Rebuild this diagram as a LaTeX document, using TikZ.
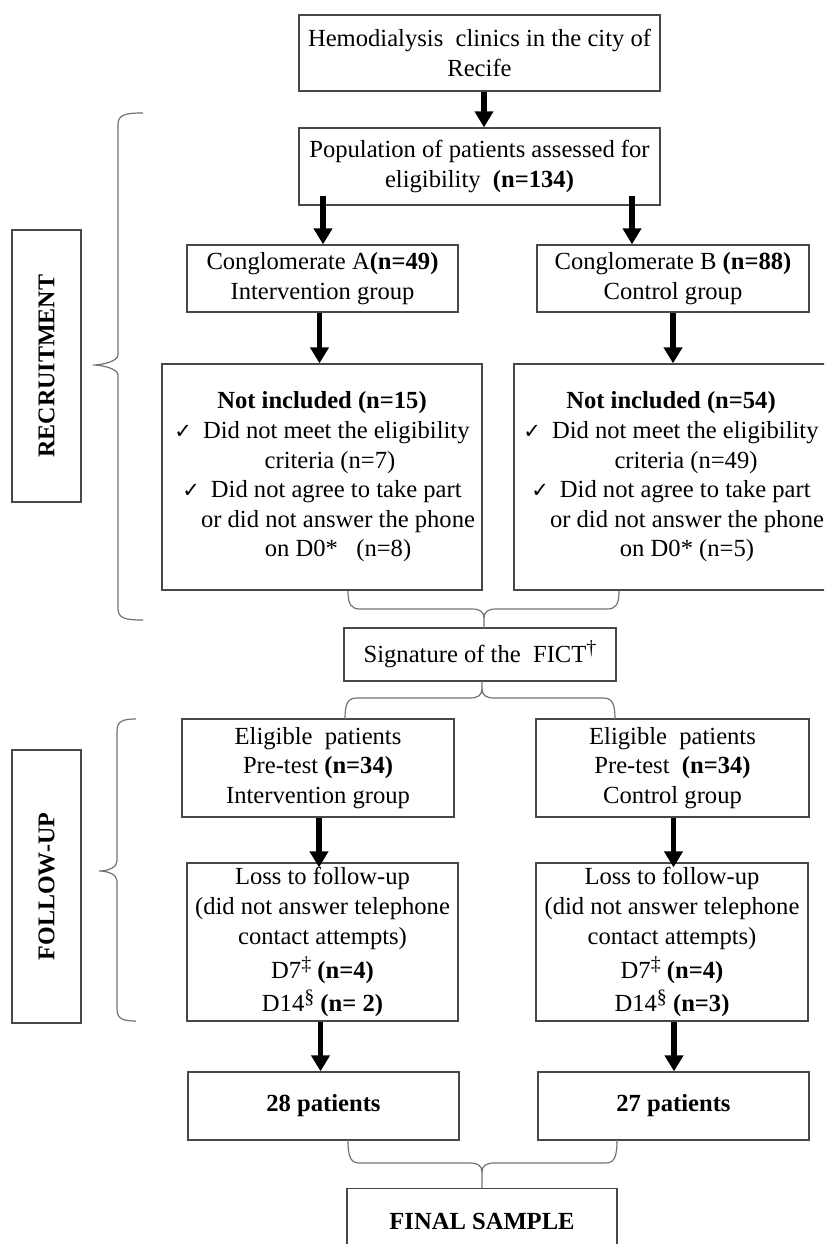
\documentclass[tikz,border=0pt]{standalone}
\usepackage{fontspec}
\setmainfont{Liberation Serif}
\newfontfamily\symf{DejaVu Sans}
\usetikzlibrary{arrows.meta,calc}
\newcommand{\ck}{{\symf\fontsize{21}{21}\selectfont ✓}\hspace{11pt}}
\newcommand{\sups}[1]{\raisebox{8pt}{\fontsize{20}{20}\selectfont #1}}
% brace with two ends on top, cusp pointing down
\newcommand{\braceup}[6]{%
  \draw[brc] (#1,#4) .. controls (#1,#5-5) and (#1+3,#5) .. (#1+12,#5) -- (#3-12,#5) .. controls (#3-4,#5) and (#3,#5+3) .. (#3,#5+9) -- (#3,#6);
  \draw[brc] (#2,#4) .. controls (#2,#5-5) and (#2-3,#5) .. (#2-12,#5) -- (#3+12,#5) .. controls (#3+4,#5) and (#3,#5+3) .. (#3,#5+9);}
% brace with cusp on top, two ends below
\newcommand{\bracedn}[6]{%
  \draw[brc] (#3,#4) -- (#3,#5-9) .. controls (#3,#5-3) and (#3-4,#5) .. (#3-12,#5) -- (#1+12,#5) .. controls (#1+3,#5) and (#1,#5+5) .. (#1,#6);
  \draw[brc] (#3,#5-9) .. controls (#3,#5-3) and (#3+4,#5) .. (#3+12,#5) -- (#2-12,#5) .. controls (#2-3,#5) and (#2,#5+5) .. (#2,#6);}
% vertical brace, cusp pointing left
\newcommand{\bracel}[6]{%
  \draw[brc] (#2,#4) .. controls (#1+6,#4) and (#1,#4+2) .. (#1,#4+12) -- (#1,#5-10) .. controls (#1,#5-4) and (#3+10,#5) .. (#3,#5) .. controls (#3+10,#5) and (#1,#5+4) .. (#1,#5+10) -- (#1,#6-12) .. controls (#1,#6-2) and (#1+6,#6) .. (#2,#6);}
\begin{document}
\begin{tikzpicture}[x=1pt,y=-1pt,
  boxst/.style={draw=black!72, line width=1.3pt, align=center, inner sep=0pt, font=\fontsize{24.6}{29.6}\selectfont},
  arr/.style={line width=5.5pt, -{Triangle[width=18pt,length=16pt]}},
  brc/.style={draw=black!55, line width=1.2pt},
  side/.style={boxst, rotate=90, font=\fontsize{24}{29.6}\selectfont\bfseries}]
\clip (0,0) rectangle (824,1244);
\fill[white] (0,0) rectangle (824,1244);

% label boxes
\node[side, minimum width=272pt, minimum height=69pt] (rec) at (46.5,366) {RECRUITMENT};
\node[side, minimum width=273pt, minimum height=69pt] (fol) at (46.5,886.5) {FOLLOW-UP};
\bracel{118}{143}{93}{113}{365}{620}
\bracel{117}{136}{99}{719}{871}{1021}

% main boxes
\node[boxst, minimum width=361pt, minimum height=76pt] (top) at (479.5,53) {Hemodialysis\ \ clinics in the city of\\Recife};
\node[boxst, minimum width=361pt, minimum height=77pt] (pop) at (479.5,166.5) {Population of patients assessed for\\eligibility\ \ \textbf{(n=134)}};
\node[boxst, minimum width=271pt, minimum height=67pt] (cA) at (322.5,278.5) {Conglomerate A\textbf{(n=49)}\\Intervention group};
\node[boxst, minimum width=272pt, minimum height=67pt] (cB) at (673,278.5) {Conglomerate B \textbf{(n=88)}\\Control group};
\node[boxst, minimum width=320pt, minimum height=226pt] (notA) at (322,477) {\textbf{Not included (n=15)}\\\ck Did not meet the eligibility\\\hspace*{16pt}criteria (n=7)\\\ck Did not agree to take part\\\hspace*{32pt}or did not answer the phone\\\hspace*{32pt}on D0*\ \ \ (n=8)};
\node[boxst, minimum width=314pt, minimum height=226pt] (notB) at (671,477) {\textbf{Not included (n=54)}\\\ck Did not meet the eligibility\\\hspace*{30pt}criteria (n=49)\\\ck Did not agree to take part\\\hspace*{32pt}or did not answer the phone\\\hspace*{32pt}on D0* (n=5)};
\node[boxst, minimum width=272pt, minimum height=53pt] (sig) at (480,654.5) {Signature of the\ \ FICT\sups{†}};
\node[boxst, minimum width=272pt, minimum height=98pt] (eA) at (318,768) {Eligible\ \ patients\\Pre-test \textbf{(n=34)}\\Intervention group};
\node[boxst, minimum width=273pt, minimum height=98pt] (eB) at (672.5,768) {Eligible\ \ patients\\Pre-test\ \ \textbf{(n=34)}\\Control group};
\node[boxst, minimum width=271pt, minimum height=158pt] (lA) at (322.5,942) {Loss to follow-up\\(did not answer telephone\\contact attempts)\\[5pt]D7\sups{‡} \textbf{(n=4)}\\[3pt]D14\sups{§} \textbf{(n= 2)}};
\node[boxst, minimum width=272pt, minimum height=158pt] (lB) at (672,942) {Loss to follow-up\\(did not answer telephone\\contact attempts)\\[5pt]D7\sups{‡} \textbf{(n=4)}\\[3pt]D14\sups{§} \textbf{(n=3)}};
\node[boxst, minimum width=271pt, minimum height=68pt] (pA) at (323.5,1106) {\textbf{28 patients}};
\node[boxst, minimum width=271pt, minimum height=68pt] (pB) at (673.5,1106) {\textbf{27 patients}};
\node[boxst, minimum width=270pt, minimum height=140pt, anchor=north] (final) at (482,1188) {};
\node[font=\fontsize{24.6}{29.6}\selectfont\bfseries] (finaltxt) at (482,1221) {FINAL SAMPLE};

% arrows
\coordinate (xT) at (484,0);
\coordinate (xL) at (323,0);
\coordinate (xR) at (632,0);
\draw[arr] (top.south -| xT) -- (pop.north -| xT);
\draw[arr] ([yshift=10pt]pop.south -| xL) -- (cA.north -| xL);
\draw[arr] ([yshift=10pt]pop.south -| xR) -- (cB.north -| xR);
\draw[arr] ([xshift=-3pt]cA.south) -- ([xshift=-3pt]notA.north -| cA.south);
\draw[arr] (cB.south) -- (notB.north -| cB.south);
\draw[arr] ([xshift=1pt]eA.south) -- ([xshift=1pt,yshift=-5pt]lA.north -| eA.south);
\draw[arr] ([xshift=1pt]eB.south) -- ([xshift=1pt,yshift=-5pt]lB.north -| eB.south);
\draw[arr] ([xshift=-2pt]lA.south) -- ([xshift=-2pt]pA.north -| lA.south);
\draw[arr] ([xshift=2pt]lB.south) -- ([xshift=2pt]pB.north -| lB.south);

% braces between stages
\braceup{348}{619}{484}{591}{609}{628}
\bracedn{345}{615}{482}{681}{698}{719}
\braceup{348}{617}{482}{1140}{1163}{1188}
\end{tikzpicture}
\end{document}
